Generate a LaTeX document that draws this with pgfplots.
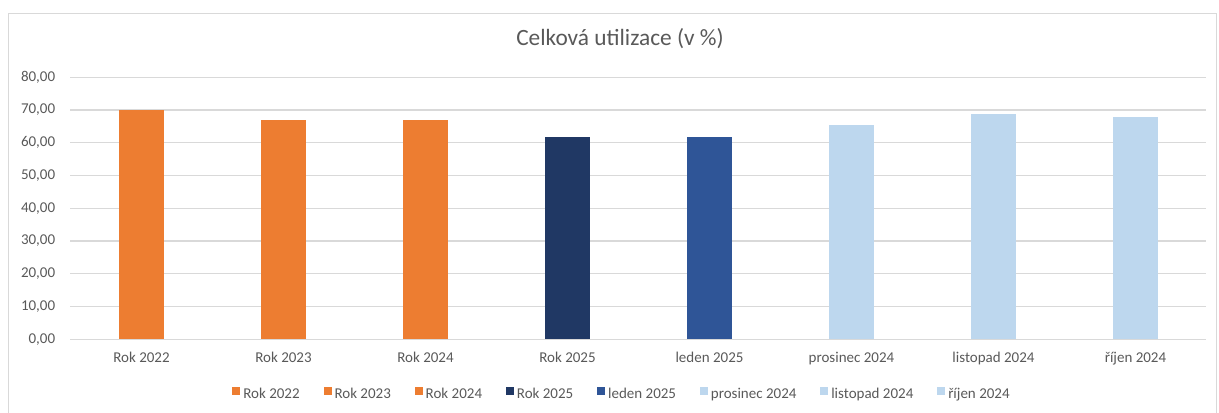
\documentclass[border=0pt]{standalone}
\usepackage{pgfplots}
\pgfplotsset{compat=1.18}
\usepackage{fontspec}
\setmainfont{Carlito}

\definecolor{txtgray}{HTML}{595959}
\definecolor{gridgray}{HTML}{D9D9D9}
\definecolor{c22}{HTML}{ED7D31}
\definecolor{c25}{HTML}{203864}
\definecolor{cled}{HTML}{2F5597}
\definecolor{cpro}{HTML}{BDD7EE}

\begin{document}
\begin{tikzpicture}
% canvas 1219 x 412 px, 1 px = 0.6 pt
\path[use as bounding box] (0pt,0pt) rectangle (731.4pt,247.2pt);
\draw[gridgray] (4.8pt,-2pt) -- (4.8pt,239.4pt) -- (729.6pt,239.4pt) -- (729.6pt,-2pt);
\node[anchor=base, text=txtgray, font=\fontsize{14}{17}\selectfont] at (372pt,220.2pt) {Celková utilizace (v \%)};

\begin{axis}[
	at={(42.3pt,43.62pt)}, anchor=south west,
	scale only axis,
	width=681.6pt, height=157.2pt,
	ybar, bar width=27pt, bar shift=0pt,
	xmin=-0.5, xmax=7.5,
	ymin=0, ymax=80, ytick={0,10,...,80},
	xtick={0,...,7},
	xticklabels={Rok 2022,Rok 2023,Rok 2024,Rok 2025,leden 2025,prosinec 2024,listopad 2024,říjen 2024},
	axis line style={draw=none},
	tick style={draw=none},
	major tick length=0pt,
	ymajorgrids, grid style={gridgray, line width=0.8pt},
	/pgf/number format/.cd, fixed, fixed zerofill, precision=2, use comma, assume math mode=true,
	/pgfplots/.cd,
	ticklabel style={font=\fontsize{9}{11}\selectfont, text=txtgray},
	yticklabel style={anchor=east, inner sep=0pt, xshift=-9pt},
	xticklabel style={anchor=north, inner sep=0pt, yshift=-7.5pt},
	legend columns=8,
	legend image code/.code={\fill[#1] (0pt,-0.2pt) rectangle (4.8pt,4.6pt);},
	legend style={
		at={(0.4846,-0.2088)}, anchor=center,
		draw=none, fill=none, inner sep=0pt,
		font=\fontsize{9}{11}\selectfont, text=txtgray,
		nodes={inner sep=0pt},
		/tikz/every odd column/.append style={column sep=1.8pt},
		/tikz/every even column/.append style={column sep=14.3pt},
	},
]
\addplot[fill=c22, draw=none] coordinates {(0,70.1)};
\addlegendentry{Rok 2022}
\addplot[fill=c22, draw=none] coordinates {(1,67.0)};
\addlegendentry{Rok 2023}
\addplot[fill=c22, draw=none] coordinates {(2,67.0)};
\addlegendentry{Rok 2024}
\addplot[fill=c25, draw=none] coordinates {(3,61.8)};
\addlegendentry{Rok 2025}
\addplot[fill=cled, draw=none] coordinates {(4,61.8)};
\addlegendentry{leden 2025}
\addplot[fill=cpro, draw=none] coordinates {(5,65.4)};
\addlegendentry{prosinec 2024}
\addplot[fill=cpro, draw=none] coordinates {(6,68.8)};
\addlegendentry{listopad 2024}
\addplot[fill=cpro, draw=none] coordinates {(7,67.9)};
\addlegendentry{říjen 2024}
\end{axis}
\end{tikzpicture}
\end{document}
